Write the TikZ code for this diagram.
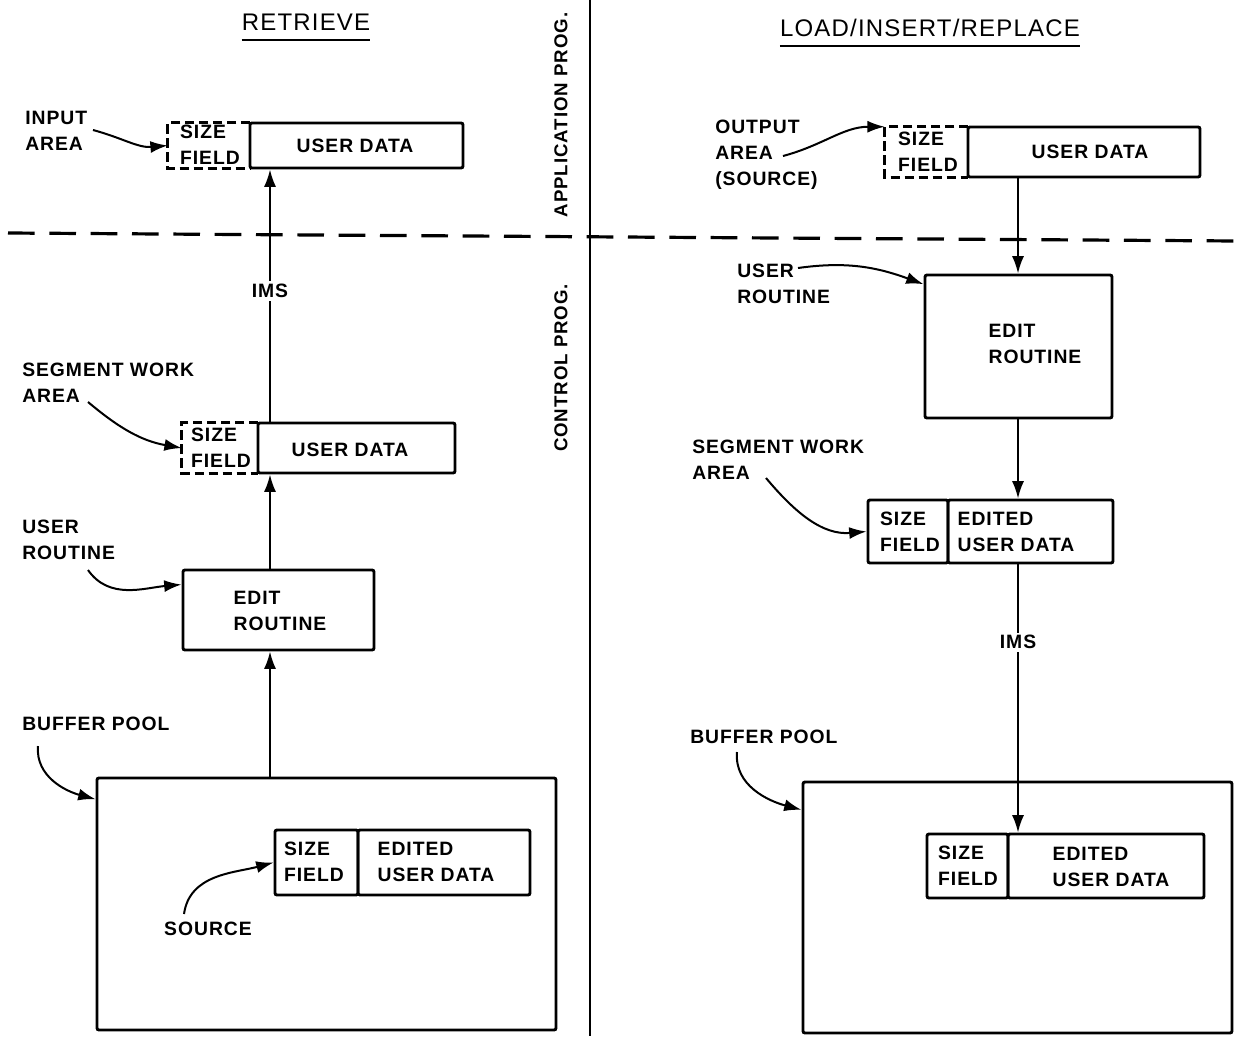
\documentclass[tikz,border=0pt]{standalone}
\usepackage{fontspec}
\setmainfont{Liberation Sans}[LetterSpace=5]
\usetikzlibrary{arrows.meta,fit}
\tikzset{
  box/.style={draw, line width=2.2pt, rounded corners=1.5pt, inner sep=0pt},
  area/.style={inner sep=0pt},
  dsh/.style={line width=2.2pt, dash pattern=on 7pt off 3.5pt},
  txt/.style={align=left, inner sep=0pt},
  conn/.style={line width=1.5pt},
  arr/.style={conn, -{Latex[length=13pt,width=9pt]}},
  lbl/.style={fill=white, inner sep=2pt},
  title/.style={inner sep=0pt, text height=13pt, text depth=0pt, font=\mdseries\fontsize{18}{20}\selectfont},
  side/.style={rotate=90, inner sep=0pt, font=\bfseries\fontsize{14}{16}\selectfont},
}
\begin{document}
\begin{tikzpicture}[x=0.75pt,y=-0.75pt,font=\bfseries\fontsize{14.5}{19.5}\selectfont]
\useasboundingbox (0,0) rectangle (1238,1036);
\fill[white] (0,0) rectangle (1238,1036);

% frame lines
\draw[line width=2pt] (590,0) -- (590,1036);
\draw[line width=2.4pt, dash pattern=on 20pt off 11pt] (8,233) -- (1238,241);
\node[side] (app) at (561,115) {APPLICATION PROG.};
\node[side] (ctl) at (561,368) {CONTROL PROG.};

% titles
\node[title] (t1) at (306,22) {RETRIEVE};
\draw[line width=1.5pt] ([yshift=-7pt]t1.south west) -- ([yshift=-7pt]t1.south east);
\node[title] (t2) at (930,28) {LOAD/INSERT/REPLACE};
\draw[line width=1.5pt] ([yshift=-7pt]t2.south west) -- ([yshift=-7pt]t2.south east);

\coordinate (axL) at (270,0);
\coordinate (axR) at (1018,0);

% ---------------- left ----------------
\node[area, fit={(168,123)(250,168)}] (sf1) {};
\draw[dsh] (sf1.north east) -- (sf1.north west) -- (sf1.south west) -- (sf1.south east);
\node[box, fit={(250,123)(463,168)}] (ud1) {};
\node[txt] at (210,145) {SIZE\\FIELD};
\node[txt] at (355,146) {USER DATA};

\node[area, fit={(182,423)(258,473)}] (sf2) {};
\draw[dsh] (sf2.north east) -- (sf2.north west) -- (sf2.south west) -- (sf2.south east);
\node[box, fit={(258,423)(455,473)}] (ud2) {};
\node[txt] at (221,448) {SIZE\\FIELD};
\node[txt] at (350,450) {USER DATA};

\node[box, fit={(183,570)(374,650)}] (er1) {};
\node[txt] at (280,611) {EDIT\\ROUTINE};

\node[box, fit={(97,778)(556,1030)}] (bp1) {};
\node[box, fit={(275,830)(358,895)}] (sf3) {};
\node[box, fit={(358,830)(530,895)}] (ud3) {};
\node[txt] at (314,862) {SIZE\\FIELD};
\node[txt] at (436,862) {EDITED\\USER DATA};

\draw[arr] (ud2.north -| axL) -- (ud1.south -| axL);
\node[lbl] (ims1) at (270,291) {IMS};
\draw[arr] (er1.north -| axL) -- (ud2.south -| axL);
\draw[arr] (bp1.north -| axL) -- (er1.south -| axL);

\node[txt, anchor=west] (lin) at (25,131) {INPUT\\AREA};
\coordinate (cin) at (93,130);
\draw[arr] (cin) to[out=-15,in=185] (sf1.west);

\node[txt, anchor=west] (lsw) at (22,383) {SEGMENT WORK\\AREA};
\coordinate (csw) at (88,402);
\draw[arr] (csw) to[out=-40,in=170] (sf2.west);

\node[txt, anchor=west] (lur) at (22,540) {USER\\ROUTINE};
\coordinate (cur) at (88,570);
\draw[arr] (cur) to[out=-55,in=185] ([yshift=-12pt]er1.north west);

\node[txt, anchor=west] (lbp) at (22,724) {BUFFER POOL};
\coordinate (cbp) at (38,746);
\draw[arr] (cbp) to[out=-95,in=165] ([yshift=-17pt]bp1.north west);

\node[txt] (lsrc) at (208,929) {SOURCE};
\coordinate (csrc) at (184,914);
\draw[arr] (csrc) to[out=82,in=195] (sf3.west);

% ---------------- right ----------------
\node[area, fit={(885,127)(968,177)}] (sf4) {};
\draw[dsh] (sf4.north east) -- (sf4.north west) -- (sf4.south west) -- (sf4.south east);
\node[box, fit={(968,127)(1200,177)}] (ud4) {};
\node[txt] at (928,152) {SIZE\\FIELD};
\node[txt] at (1090,152) {USER DATA};

\node[box, fit={(925,275)(1112,418)}] (er2) {};
\node[txt] at (1035,344) {EDIT\\ROUTINE};

\node[box, fit={(868,500)(948,563)}] (sf5) {};
\node[box, fit={(948,500)(1113,563)}] (ud5) {};
\node[txt] at (910,532) {SIZE\\FIELD};
\node[txt] at (1016,532) {EDITED\\USER DATA};

\node[box, fit={(803,782)(1232,1033)}] (bp2) {};
\node[box, fit={(927,834)(1008,898)}] (sf6) {};
\node[box, fit={(1008,834)(1204,898)}] (ud6) {};
\node[txt] at (968,866) {SIZE\\FIELD};
\node[txt] at (1111,867) {EDITED\\USER DATA};

\draw[arr] (ud4.south -| axR) -- (er2.north -| axR);
\draw[arr] (er2.south -| axR) -- (ud5.north -| axR);
\draw[arr] (ud5.south -| axR) -- (ud6.north -| axR);
\node[lbl] (ims2) at (1018,642) {IMS};

\node[txt, anchor=west] (lout) at (715,155) {OUTPUT\\AREA\\(SOURCE)};
\coordinate (cout) at (783,156);
\draw[arr] (cout) to[out=15,in=180] (sf4.north west);

\node[txt, anchor=west] (lur2) at (737,284) {USER\\ROUTINE};
\coordinate (cur2) at (798,268);
\draw[arr] (cur2) to[out=8,in=160] ([yshift=-8pt]er2.north west);

\node[txt, anchor=west] (lsw2) at (692,460) {SEGMENT WORK\\AREA};
\coordinate (csw2) at (766,478);
\draw[arr] (csw2) to[out=-50,in=185] (sf5.west);

\node[txt, anchor=west] (lbp2) at (690,737) {BUFFER POOL};
\coordinate (cbp2) at (737,752);
\draw[arr] (cbp2) to[out=-95,in=165] ([yshift=-22pt]bp2.north west);
\end{tikzpicture}
\end{document}
